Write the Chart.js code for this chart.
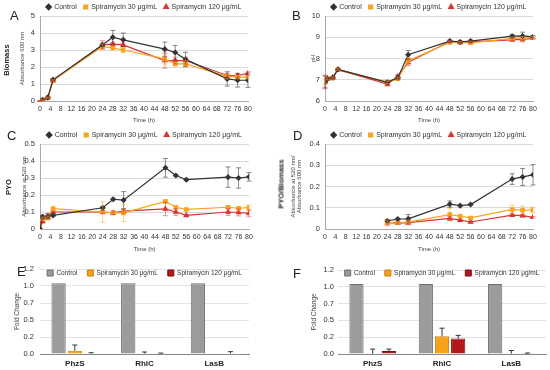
<!DOCTYPE html>
<html>
<head>
<meta charset="utf-8">
<script src="https://cdn.jsdelivr.net/npm/chart.js@4.4.1/dist/chart.umd.min.js"></script>
<style>
  html, body { margin: 0; padding: 0; background: #fff; }
  #page { position: relative; width: 550px; height: 370px; overflow: hidden;
    font-family: "Liberation Sans", Arial, sans-serif; color: #222; }
  canvas { position: absolute; }
  .letter { position: absolute; font-size: 13px; line-height: 13px; }
  .ytitle { position: absolute; font-weight: bold; font-size: 7.5px; white-space: nowrap;
    transform: translate(-50%, -50%) rotate(-90deg); }
</style>
</head>
<body>
<div id="page">
  <canvas id="chartA" width="275" height="126" style="left:0;top:0"></canvas>
  <canvas id="chartB" width="275" height="126" style="left:275px;top:0"></canvas>
  <canvas id="chartC" width="275" height="128" style="left:0;top:126px"></canvas>
  <canvas id="chartD" width="275" height="128" style="left:275px;top:126px"></canvas>
  <canvas id="chartE" width="275" height="114" style="left:0;top:256px"></canvas>
  <canvas id="chartF" width="275" height="114" style="left:275px;top:256px"></canvas>

  <div class="letter" style="left:10px;top:9px">A</div>
  <div class="letter" style="left:292px;top:9px">B</div>
  <div class="letter" style="left:7px;top:129px">C</div>
  <div class="letter" style="left:293px;top:129px">D</div>
  <div class="letter" style="left:17px;top:265px">E</div>
  <div class="letter" style="left:293px;top:267px">F</div>

  <div class="ytitle" style="left:6px;top:60px">Biomass</div>
  <div class="ytitle" style="left:8px;top:187px">PYO</div>
  <div class="ytitle" style="left:281px;top:184px">PYO/Biomass</div>
</div>

<script>
const seriesNames = ["Control", "Spiramycin 30 μg/mL", "Spiramycin 120 μg/mL"];

const times = [0, 1, 3, 5, 24, 28, 32, 48, 52, 56, 72, 76, 80];
const timesRatio = [24, 28, 32, 48, 52, 56, 72, 76, 80];

const biomassControl = [0.0, 0.05, 0.2, 1.25, 3.3, 3.75, 3.6, 3.05, 2.85, 2.45, 1.3, 1.22, 1.22];
const biomassControlErr = [0.02, 0.02, 0.03, 0.05, 0.1, 0.4, 0.4, 0.42, 0.42, 0.42, 0.42, 0.4, 0.42];
const biomass30 = [0.0, 0.05, 0.2, 1.2, 3.2, 3.12, 3.0, 2.48, 2.18, 2.18, 1.45, 1.4, 1.4];
const biomass30Err = [0.02, 0.02, 0.03, 0.05, 0.15, 0.1, 0.15, 0.3, 0.1, 0.2, 0.15, 0.1, 0.1];
const biomass120 = [0.0, 0.05, 0.2, 1.2, 3.3, 3.35, 3.3, 2.38, 2.38, 2.38, 1.5, 1.5, 1.62];
const biomass120Err = [0.02, 0.02, 0.03, 0.05, 0.25, 0.1, 0.1, 0.45, 0.2, 0.2, 0.1, 0.1, 0.1];

const phControl = [6.9, 7.05, 7.1, 7.48, 6.88, 7.1, 8.18, 8.82, 8.78, 8.82, 9.05, 9.06, 9.02];
const phControlErr = [0.28, 0.05, 0.05, 0.04, 0.08, 0.08, 0.2, 0.05, 0.05, 0.05, 0.08, 0.18, 0.06];
const ph30 = [6.9, 7.05, 7.08, 7.48, 6.88, 7.05, 7.9, 8.76, 8.76, 8.74, 8.95, 8.96, 8.98];
const ph30Err = [0.1, 0.05, 0.05, 0.04, 0.06, 0.06, 0.15, 0.05, 0.04, 0.05, 0.05, 0.08, 0.05];
const ph120 = [6.9, 7.05, 7.1, 7.48, 6.8, 7.15, 7.82, 8.8, 8.76, 8.78, 8.88, 8.9, 8.95];
const ph120Err = [0.32, 0.05, 0.05, 0.04, 0.1, 0.1, 0.15, 0.05, 0.04, 0.05, 0.08, 0.12, 0.05];

const pyoControl = [0.0, 0.072, 0.075, 0.08, 0.125, 0.175, 0.17, 0.36, 0.315, 0.29, 0.305, 0.3, 0.307];
const pyoControlErr = [0, 0.01, 0.015, 0.005, 0.005, 0.005, 0.05, 0.055, 0.005, 0.005, 0.06, 0.06, 0.025];
const pyo30 = [0.0, 0.06, 0.065, 0.12, 0.1, 0.095, 0.095, 0.162, 0.128, 0.115, 0.128, 0.122, 0.126];
const pyo30Err = [0, 0.01, 0.01, 0.005, 0.06, 0.01, 0.05, 0.01, 0.01, 0.005, 0.01, 0.01, 0.015];
const pyo120 = [0.0, 0.045, 0.07, 0.1, 0.1, 0.095, 0.105, 0.118, 0.1, 0.08, 0.1, 0.097, 0.092];
const pyo120Err = [0, 0.01, 0.01, 0.005, 0.01, 0.01, 0.01, 0.04, 0.02, 0.005, 0.02, 0.02, 0.02];

const ratioControl = [0.038, 0.047, 0.048, 0.117, 0.11, 0.115, 0.235, 0.245, 0.255];
const ratioControlErr = [0.005, 0.003, 0.02, 0.015, 0.003, 0.003, 0.025, 0.04, 0.048];
const ratio30 = [0.03, 0.03, 0.032, 0.068, 0.06, 0.052, 0.092, 0.088, 0.09];
const ratio30Err = [0.008, 0.005, 0.01, 0.03, 0.005, 0.005, 0.02, 0.02, 0.012];
const ratio120 = [0.03, 0.028, 0.03, 0.05, 0.042, 0.033, 0.065, 0.063, 0.055];
const ratio120Err = [0.015, 0.005, 0.01, 0.01, 0.003, 0.003, 0.005, 0.005, 0.003];

const genes = ["PhzS", "RhlC", "LasB"];
const foldTicks = [0, 0.24, 0.48, 0.72, 0.96, 1.2];
const geneControl = [1.0, 1.0, 1.0];
const geneE30 = [0.047, 0.008, 0.002];
const geneE30Err = [0.08, 0.02, 0];
const geneE120 = [0.008, 0.008, 0.008];
const geneE120Err = [0.01, 0.005, 0.025];
const geneF30 = [0.005, 0.252, 0.005];
const geneF30Err = [0.065, 0.117, 0.045];
const geneF120 = [0.042, 0.22, 0.004];
const geneF120Err = [0.028, 0.046, 0.01];

const lineColors = ["#333333", "#f7a520", "#dd3434"];
const errorColors = ["rgba(60,60,60,0.6)", "rgba(247,165,32,0.55)", "rgba(221,52,52,0.5)"];
const pointStyles = ["rectRot", "rect", "triangle"];
const barColors = ["#9b9b9b", "#f7a21b", "#b3191b"];
const barBorders = ["#6f6f6f", "#c97d0c", "#7d1012"];

Chart.defaults.font.family = "'Liberation Sans', Arial, sans-serif";
Chart.defaults.color = "#333";

// error bars drawn from the y scale of each chart
const errorBars = {
  id: "errorBars",
  afterDatasetsDraw(chart) {
    const ctx = chart.ctx;
    const yScale = chart.scales.y;
    const isBar = chart.config.type === "bar";

    chart.data.datasets.forEach((dataset, index) => {
      if (!dataset.errors) {
        return;
      }

      const meta = chart.getDatasetMeta(index);

      meta.data.forEach((element, pointIndex) => {
        const error = dataset.errors[pointIndex];

        if (!error) {
          return;
        }

        const raw = dataset.data[pointIndex];
        const value = typeof raw === "object" ? raw.y : raw;
        const top = yScale.getPixelForValue(value + error);
        const bottom = isBar ? element.y : yScale.getPixelForValue(value - error);

        ctx.save();
        ctx.strokeStyle = dataset.errorColor;
        ctx.lineWidth = 1;
        ctx.beginPath();
        ctx.moveTo(element.x, top);
        ctx.lineTo(element.x, bottom);
        ctx.moveTo(element.x - 2.5, top);
        ctx.lineTo(element.x + 2.5, top);

        if (!isBar) {
          ctx.moveTo(element.x - 2.5, bottom);
          ctx.lineTo(element.x + 2.5, bottom);
        }

        ctx.stroke();
        ctx.restore();
      });
    });
  }
};

// legend takes no layout space; it is laid over the chart area at a set height
const legendPlace = {
  id: "legendPlace",
  beforeInit(chart) {
    const legend = chart.legend;
    const originalFit = legend.fit;

    legend.fit = function () {
      originalFit.call(this);
      this.height = 0;
    };
  },
  afterLayout(chart, args, options) {
    const legend = chart.legend;
    const labels = chart.options.plugins.legend.labels;

    legend.left = chart.chartArea.left - 25;
    legend.right = chart.chartArea.right + 25;
    legend.width = legend.right - legend.left;
    legend.top = options.centerY - labels.padding - labels.font.size / 2;
    legend.height = 30;
    legend.bottom = legend.top + legend.height;
  }
};

function toPoints(xs, ys) {
  return xs.map((x, i) => ({ x, y: ys[i] }));
}

function lineDataset(i, xs, ys, errs) {
  return {
    label: seriesNames[i],
    data: toPoints(xs, ys),
    errors: errs,
    errorColor: errorColors[i],
    borderColor: lineColors[i],
    backgroundColor: lineColors[i],
    borderWidth: 1.2,
    pointStyle: pointStyles[i],
    pointRadius: i === 0 ? 2.2 : 2.4,
    tension: 0
  };
}

function makeLineChart(id, datasets, setup) {
  new Chart(document.getElementById(id), {
    type: "line",
    data: { datasets },
    options: {
      responsive: false,
      animation: false,
      layout: { padding: setup.padding },
      plugins: {
        tooltip: { enabled: false },
        legendPlace: { centerY: setup.legendY },
        legend: {
          position: "top",
          labels: {
            usePointStyle: true,
            boxWidth: 4,
            boxHeight: 4,
            padding: 7,
            font: { size: 7 },
            color: "#333"
          }
        }
      },
      scales: {
        x: {
          type: "linear",
          min: 0,
          max: 80,
          grid: { display: false, drawTicks: false },
          border: { display: true, color: "#aaa" },
          ticks: {
            stepSize: 4,
            autoSkip: false,
            maxRotation: 0,
            padding: 4,
            font: { size: 7 },
            color: "#333"
          },
          title: {
            display: true,
            text: "Time (h)",
            font: { size: 6 },
            color: "#444",
            padding: { top: 0, bottom: 0 }
          },
          afterFit(scale) {
            scale.height = setup.xHeight;
          }
        },
        y: {
          min: setup.yMin,
          max: setup.yMax,
          grid: { color: "#d9d9d9", drawTicks: false },
          border: { display: true, color: "#aaa" },
          ticks: {
            stepSize: setup.yStep,
            autoSkip: false,
            padding: 5,
            font: { size: 7.5 },
            color: "#333"
          },
          title: {
            display: true,
            text: setup.yTitle,
            font: { size: 6, lineHeight: 1.05 },
            color: "#444",
            padding: { top: setup.titlePad, bottom: 0 }
          },
          afterFit(scale) {
            scale.width = setup.yWidth;
          }
        }
      }
    },
    plugins: [errorBars, legendPlace]
  });
}

makeLineChart("chartA", [
  lineDataset(0, times, biomassControl, biomassControlErr),
  lineDataset(1, times, biomass30, biomass30Err),
  lineDataset(2, times, biomass120, biomass120Err)
], {
  yMin: 0, yMax: 5, yStep: 1, yTitle: "Absorbance 600 nm",
  padding: { left: 13, right: 27, top: 16, bottom: 2 },
  yWidth: 27, xHeight: 23, titlePad: 6, legendY: 7
});

makeLineChart("chartB", [
  lineDataset(0, times, phControl, phControlErr),
  lineDataset(1, times, ph30, ph30Err),
  lineDataset(2, times, ph120, ph120Err)
], {
  yMin: 6, yMax: 10, yStep: 1, yTitle: "pH",
  padding: { left: 30, right: 17, top: 16, bottom: 2 },
  yWidth: 20, xHeight: 23, titlePad: 5, legendY: 7
});

makeLineChart("chartC", [
  lineDataset(0, times, pyoControl, pyoControlErr),
  lineDataset(1, times, pyo30, pyo30Err),
  lineDataset(2, times, pyo120, pyo120Err)
], {
  yMin: 0, yMax: 0.5, yStep: 0.1, yTitle: "Absorbance at 520 nm",
  padding: { left: 13, right: 26, top: 18, bottom: 1 },
  yWidth: 27, xHeight: 24, titlePad: 8, legendY: 9
});

makeLineChart("chartD", [
  lineDataset(0, timesRatio, ratioControl, ratioControlErr),
  lineDataset(1, timesRatio, ratio30, ratio30Err),
  lineDataset(2, timesRatio, ratio120, ratio120Err)
], {
  yMin: 0, yMax: 0.4, yStep: 0.1, yTitle: ["Absorbance at 520 nm/", "Absorbance 600 nm"],
  padding: { left: 10, right: 17, top: 18, bottom: 1 },
  yWidth: 40, xHeight: 24, titlePad: 5, legendY: 9
});

function barDataset(i, values, errs) {
  return {
    label: seriesNames[i],
    data: values,
    errors: errs,
    errorColor: "#333",
    backgroundColor: barColors[i],
    borderColor: barBorders[i],
    borderWidth: 1,
    categoryPercentage: 0.7,
    barPercentage: 0.88
  };
}

function makeBarChart(id, datasets, setup) {
  new Chart(document.getElementById(id), {
    type: "bar",
    data: { labels: genes, datasets },
    options: {
      responsive: false,
      animation: false,
      layout: { padding: setup.padding },
      plugins: {
        tooltip: { enabled: false },
        legendPlace: { centerY: setup.legendY },
        legend: {
          position: "top",
          labels: {
            boxWidth: 6,
            boxHeight: 6,
            padding: 10,
            font: { size: 6.5 },
            color: "#333"
          }
        }
      },
      scales: {
        x: {
          grid: { display: false, drawTicks: false },
          border: { display: true, color: "#888" },
          ticks: {
            padding: 5,
            font: { size: 8, weight: "bold" },
            color: "#222"
          },
          afterFit(scale) {
            scale.height = 16;
          }
        },
        y: {
          min: 0,
          max: 1.2,
          grid: { color: "#e3e3e3", drawTicks: false },
          border: { display: false },
          afterBuildTicks(scale) {
            scale.ticks = foldTicks.map((value) => ({ value }));
          },
          ticks: {
            autoSkip: false,
            padding: setup.tickPad,
            font: { size: 7.5 },
            color: "#333",
            callback: (value) => value.toFixed(1)
          },
          title: {
            display: true,
            text: "Fold Change",
            font: { size: 6.5 },
            color: "#444",
            padding: { top: setup.titlePad, bottom: 0 }
          },
          afterFit(scale) {
            scale.width = setup.yWidth;
          }
        }
      }
    },
    plugins: [errorBars, legendPlace]
  });
}

makeBarChart("chartE", [
  barDataset(0, geneControl, null),
  barDataset(1, geneE30, geneE30Err),
  barDataset(2, geneE120, geneE120Err)
], {
  padding: { left: 10, right: 26, top: 13, bottom: 0 },
  yWidth: 30, titlePad: 3, tickPad: 6, legendY: 17
});

makeBarChart("chartF", [
  barDataset(0, geneControl, null),
  barDataset(1, geneF30, geneF30Err),
  barDataset(2, geneF120, geneF120Err)
], {
  padding: { left: 30, right: 4, top: 14, bottom: 0 },
  yWidth: 33, titlePad: 5, tickPad: 4, legendY: 17
});
</script>
</body>
</html>
